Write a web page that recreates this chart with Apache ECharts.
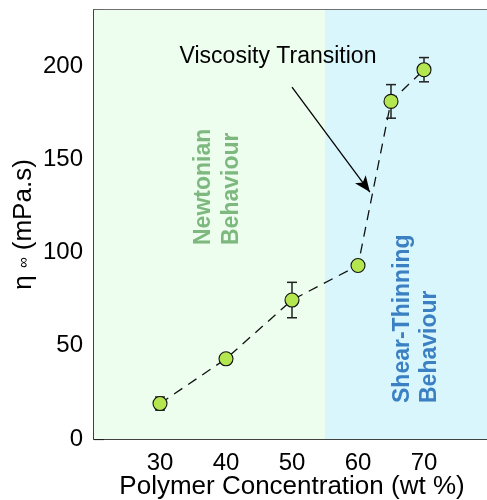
<!DOCTYPE html>
<html>
<head>
<meta charset="utf-8">
<script src="https://cdn.jsdelivr.net/npm/echarts@6/dist/echarts.min.js"></script>
<style>html,body{margin:0;padding:0;background:#fff;}#c{width:487px;height:500px;}</style>
</head>
<body>
<div id="c"></div>
<script>
// Data
var concentration = [30, 40, 50, 60, 65, 70];
var viscosity = [19, 43, 74.5, 93, 181, 198];
var errorBar = [3.5, 0, 9.5, 0, 9, 6.5];
var regionBounds = [20, 55, 80];
var regionNames = ['Newtonian\nBehaviour', 'Shear-Thinning\nBehaviour'];
var arrowFrom = [50, 188.7];
var arrowTo = [61.8, 132.4];
var annotation = 'Viscosity Transition';
var xTitle = 'Polymer Concentration (wt %)';

var FONT = '"Liberation Sans", Arial, Helvetica, sans-serif';
var pts = concentration.map(function (x, i) { return [x, viscosity[i]]; });
var errs = [];
concentration.forEach(function (x, i) {
  if (errorBar[i] > 0) errs.push([x, viscosity[i] - errorBar[i], viscosity[i] + errorBar[i]]);
});

var chart = echarts.init(document.getElementById('c'), null, {renderer: 'canvas'});
chart.setOption({
  animation: false,
  backgroundColor: '#ffffff',
  grid: {left: 94, top: 10, width: 396, height: 429, show: true, borderColor: '#444', borderWidth: 1.5, backgroundColor: 'transparent', containLabel: false, outerBoundsMode: 'none'},
  xAxis: {
    type: 'value', min: regionBounds[0], max: regionBounds[2], interval: 10,
    name: xTitle, nameLocation: 'middle', nameGap: 35, nameMoveOverlap: false,
    nameTextStyle: {fontFamily: FONT, fontSize: 26, color: '#000'},
    axisLine: {show: true, onZero: false, lineStyle: {color: '#333', width: 1.5}},
    axisTick: {show: true, inside: true, length: 10, lineStyle: {color: '#222', width: 1.2}},
    minorTick: {show: true, splitNumber: 2, length: 5, lineStyle: {color: '#222', width: 1.2}},
    axisLabel: {fontFamily: FONT, fontSize: 24, color: '#000', margin: 12, showMinLabel: false, showMaxLabel: false},
    splitLine: {show: false}
  },
  yAxis: {
    type: 'value', min: 0, max: 230, interval: 50,
    name: 'η {s|∞} (mPa.s)', nameLocation: 'middle', nameGap: 57, nameMoveOverlap: false,
    nameTextStyle: {fontFamily: FONT, fontSize: 26, color: '#000', rich: {s: {fontFamily: FONT, fontSize: 15, color: '#000'}}},
    axisLine: {show: true, lineStyle: {color: '#333', width: 1.5}},
    axisTick: {show: true, inside: true, length: 10, lineStyle: {color: '#222', width: 1.2}},
    minorTick: {show: true, splitNumber: 5, length: 5, lineStyle: {color: '#222', width: 1.2}},
    axisLabel: {fontFamily: FONT, fontSize: 24, color: '#000', margin: 11, showMaxLabel: false},
    splitLine: {show: false}
  },
  graphic: [
    {type: 'text', x: 278, y: 57, z: 100, style: {text: annotation, fontFamily: FONT, fontSize: 23, fill: '#000', align: 'center', verticalAlign: 'middle'}},
    {type: 'text', x: 217.5, y: 245, rotation: Math.PI / 2, z: 100, style: {text: regionNames[0], fontFamily: FONT, fontWeight: 'bold', fontSize: 23, lineHeight: 28, fill: '#7db87f', align: 'left', verticalAlign: 'middle'}},
    {type: 'text', x: 416, y: 403, rotation: Math.PI / 2, z: 100, style: {text: regionNames[1], fontFamily: FONT, fontWeight: 'bold', fontSize: 23, lineHeight: 27, fill: '#3b80c3', align: 'left', verticalAlign: 'middle'}}
  ],
  series: [
    {
      type: 'line', data: pts, symbol: 'none', z: 2,
      lineStyle: {color: '#111', width: 1.3, type: [10, 7]},
      markArea: {
        silent: true,
        data: [
          [{xAxis: regionBounds[0], itemStyle: {color: '#edfdee'}}, {xAxis: regionBounds[1]}],
          [{xAxis: regionBounds[1], itemStyle: {color: '#d9f6fd'}}, {xAxis: regionBounds[2]}]
        ]
      },
      markLine: {
        silent: true, symbol: ['none', 'arrow'], symbolSize: [10, 16],
        lineStyle: {color: '#000', width: 1.3, type: 'solid'},
        label: {show: false},
        data: [[{coord: arrowFrom}, {coord: arrowTo}]]
      }
    },
    {
      type: 'custom', z: 3,
      data: errs,
      encode: {x: 0, y: [1, 2]},
      renderItem: function (params, api) {
        var x = api.value(0);
        var lo = api.coord([x, api.value(1)]);
        var hi = api.coord([x, api.value(2)]);
        var w = 5;
        var st = {stroke: '#222', lineWidth: 1.5};
        return {type: 'group', children: [
          {type: 'line', shape: {x1: lo[0], y1: lo[1], x2: hi[0], y2: hi[1]}, style: st},
          {type: 'line', shape: {x1: lo[0] - w, y1: lo[1], x2: lo[0] + w, y2: lo[1]}, style: st},
          {type: 'line', shape: {x1: hi[0] - w, y1: hi[1], x2: hi[0] + w, y2: hi[1]}, style: st}
        ]};
      }
    },
    {
      type: 'scatter', data: pts, symbol: 'circle', symbolSize: 14, z: 4,
      itemStyle: {color: '#b4e650', borderColor: '#111', borderWidth: 1.1, opacity: 1}
    }
  ]
});
</script>
</body>
</html>
